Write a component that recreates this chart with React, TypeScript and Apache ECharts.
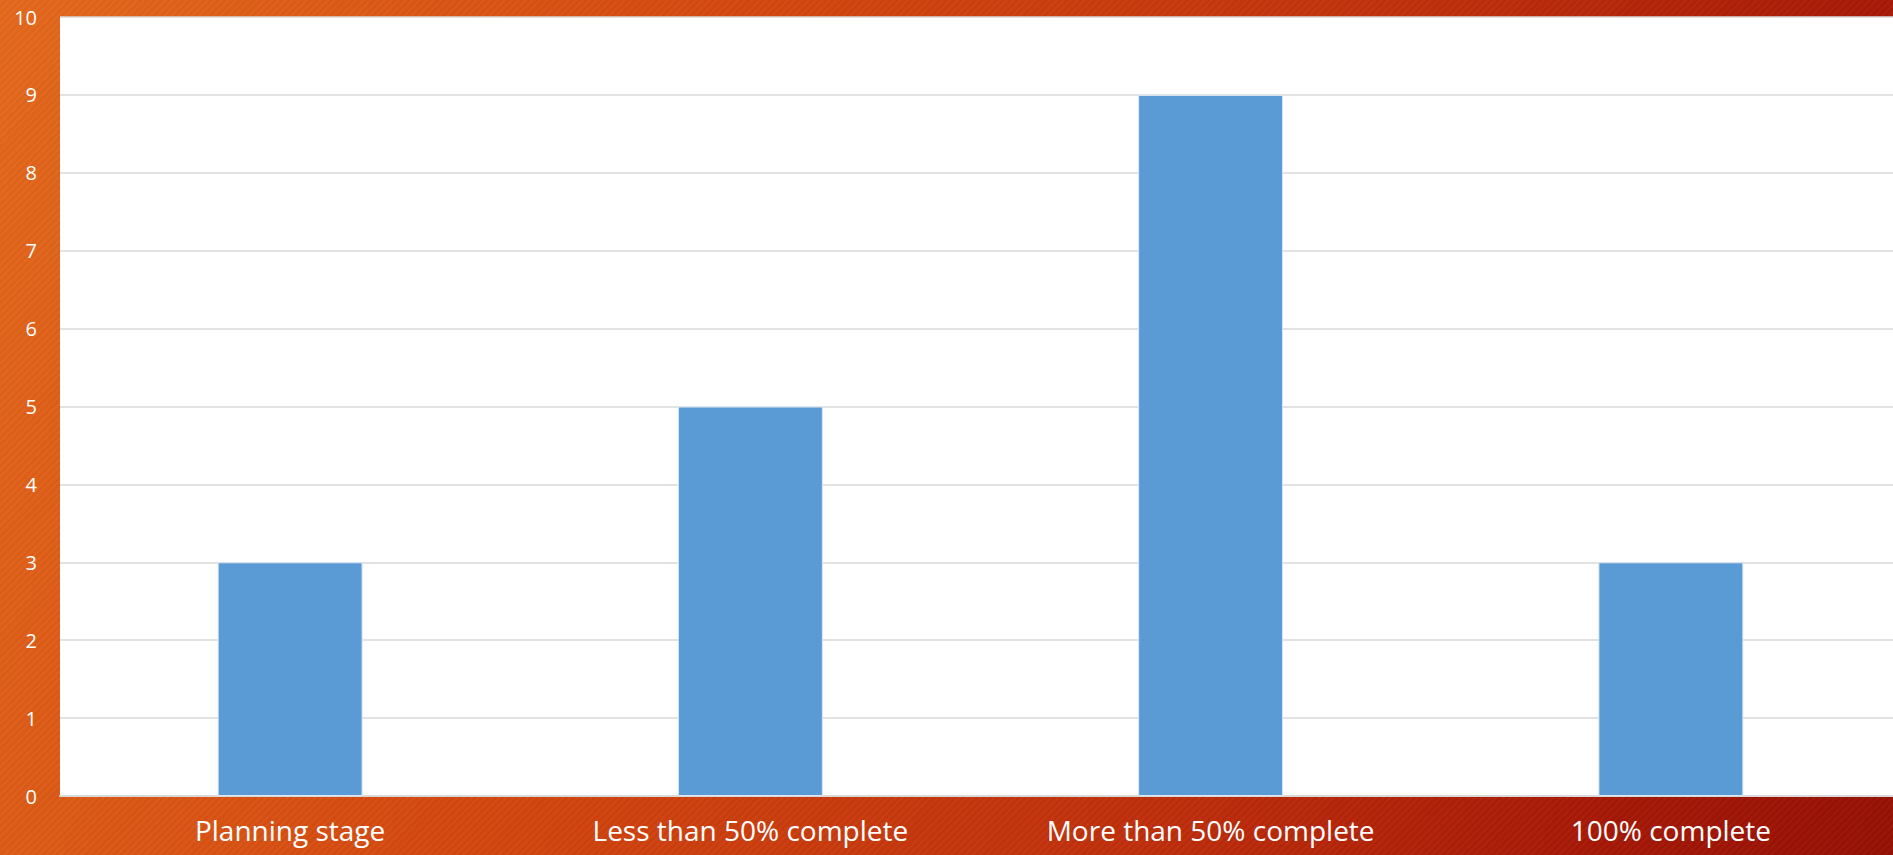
import React, { useEffect, useRef } from "react";
import * as echarts from "echarts";

const categories = ["Planning stage", "Less than 50% complete", "More than 50% complete", "100% complete"];
const values = [3, 5, 9, 3];
const yMin = 0;
const yMax = 10;
const yInterval = 1;

export default function App() {
  const ref = useRef<HTMLDivElement>(null);
  useEffect(() => {
    if (!ref.current) return;
    const chart = echarts.init(ref.current, null, { renderer: "svg" });
    chart.setOption({
      animation: false,
      backgroundColor: "transparent",
      grid: {
        left: 60,
        right: 0,
        top: 17,
        bottom: 59,
        show: true,
        backgroundColor: "#ffffff",
        borderWidth: 0,
      },
      xAxis: {
        type: "category",
        data: categories,
        axisLine: { show: true, lineStyle: { color: "#D9D9D9", width: 2 } },
        axisTick: { show: false },
        axisLabel: {
          color: "#ffffff",
          fontFamily: "Open Sans",
          fontSize: 28,
          margin: 20,
        },
      },
      yAxis: {
        type: "value",
        min: yMin,
        max: yMax,
        interval: yInterval,
        axisLine: { show: false },
        axisTick: { show: false },
        splitLine: { lineStyle: { color: "#D9D9D9", width: 1.5 } },
        axisLabel: {
          color: "#ffffff",
          fontFamily: "Open Sans",
          fontSize: 20,
          margin: 23,
        },
      },
      series: [
        {
          type: "bar",
          data: values,
          barWidth: "31.5%",
          itemStyle: { color: "#5B9BD5", borderColor: "#DCE8F5", borderWidth: 1 },
        },
      ],
    });
    return () => chart.dispose();
  }, []);
  return (
    <div
      style={{
        position: "fixed",
        left: 0,
        top: 0,
        width: 1893,
        height: 855,
        overflow: "hidden",
        backgroundImage:
          "repeating-linear-gradient(-45deg, rgba(255,255,255,0.025) 0px, rgba(255,255,255,0.025) 2px, rgba(0,0,0,0.025) 2px, rgba(0,0,0,0.025) 5px), linear-gradient(110deg, #E4691D 0%, #D4480F 35%, #C0300C 65%, #A81A07 85%, #961005 100%)",
      }}
    >
      <div ref={ref} style={{ width: 1901, height: 855 }} />
    </div>
  );
}
